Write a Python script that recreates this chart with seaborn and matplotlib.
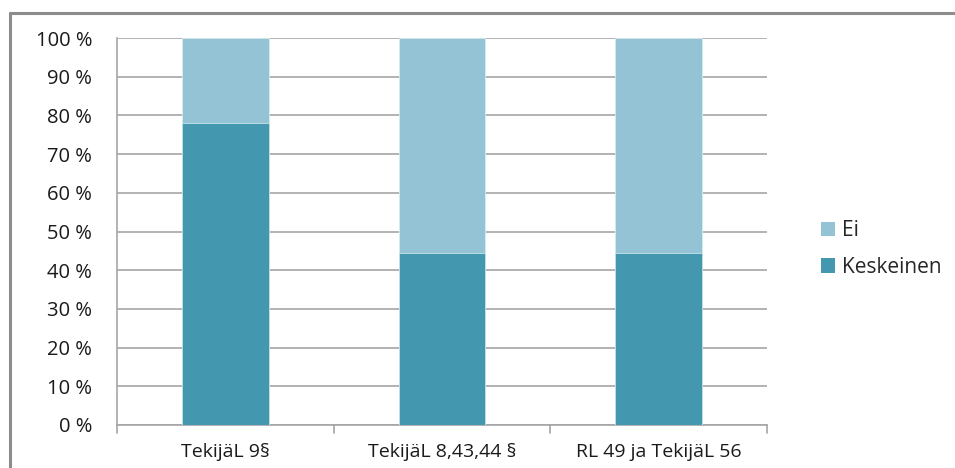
import matplotlib
matplotlib.use("Agg")
import matplotlib.pyplot as plt
import seaborn as sns
import pandas as pd
from matplotlib.patches import Patch
from matplotlib.lines import Line2D

categories = ["TekijäL 9§", "TekijäL 8,43,44 §", "RL 49 ja TekijäL 56"]
keskeinen = [78.0, 44.5, 44.5]
ei = [22.0, 55.5, 55.5]
series_names = ["Ei", "Keskeinen"]
yticks = [0, 10, 20, 30, 40, 50, 60, 70, 80, 90, 100]

col_k = "#4397AF"
col_e = "#94C3D5"
grid_c = "#A6A6A6"

sns.set_style("white")
plt.rcParams["font.family"] = ["Open Sans", "DejaVu Sans"]

df = pd.DataFrame({"cat": categories, "k": keskeinen,
                   "tot": [a + b for a, b in zip(keskeinen, ei)]})

fig = plt.figure(figsize=(9.55, 4.68), dpi=100)
ax = fig.add_axes([117/955, 1-425/468, (767-117)/955, (425-38)/468])

sns.barplot(data=df, x="cat", y="tot", color=col_e, width=0.4, ax=ax,
            edgecolor="#D8EAF0", linewidth=0.6, saturation=1, zorder=3)
sns.barplot(data=df, x="cat", y="k", color=col_k, width=0.4, ax=ax,
            edgecolor="#C9E2EA", linewidth=0.6, saturation=1, zorder=4)

ax.set_ylim(0, 100)
ax.set_xlim(-0.5, len(categories) - 0.5)
ax.set_yticks(yticks)
ax.set_yticklabels([f"{v} %" for v in yticks], fontsize=14.5, color="#1A1A1A")
ax.yaxis.grid(True, color=grid_c, linewidth=1.2, zorder=0)
ax.set_axisbelow(True)
ax.set_xlabel("")
ax.set_ylabel("")
ax.tick_params(axis="y", length=7, width=1.2, color=grid_c, pad=11)
ax.set_xticks(range(len(categories)))
ax.set_xticklabels(categories, fontsize=14, color="#1A1A1A")
ax.tick_params(axis="x", length=0, pad=13)
for x in [-0.5 + i for i in range(len(categories) + 1)]:
    ax.plot([x, x], [0, -2.0], color=grid_c, lw=1.2, clip_on=False, zorder=5)

for s in ["top", "right"]:
    ax.spines[s].set_visible(False)
for s in ["left", "bottom"]:
    ax.spines[s].set_color(grid_c)
    ax.spines[s].set_linewidth(1.2)

# outer frame (left and top only visible)
fig.add_artist(Line2D([9.5/955, 9.5/955], [0, 1-12.5/468], color="#8C8C8C", lw=2.2))
fig.add_artist(Line2D([9.5/955, 1], [1-12.5/468, 1-12.5/468], color="#8C8C8C", lw=2.2))

handles = [Patch(facecolor=col_e, edgecolor="none"), Patch(facecolor=col_k, edgecolor="none")]
fig.legend(handles, series_names, loc="center left", bbox_to_anchor=(802/955, 1-249/468),
           frameon=False, fontsize=15, handlelength=0.7, handleheight=0.7,
           handletextpad=0.3, labelspacing=0.75)

fig.savefig("out.png", dpi=100)
